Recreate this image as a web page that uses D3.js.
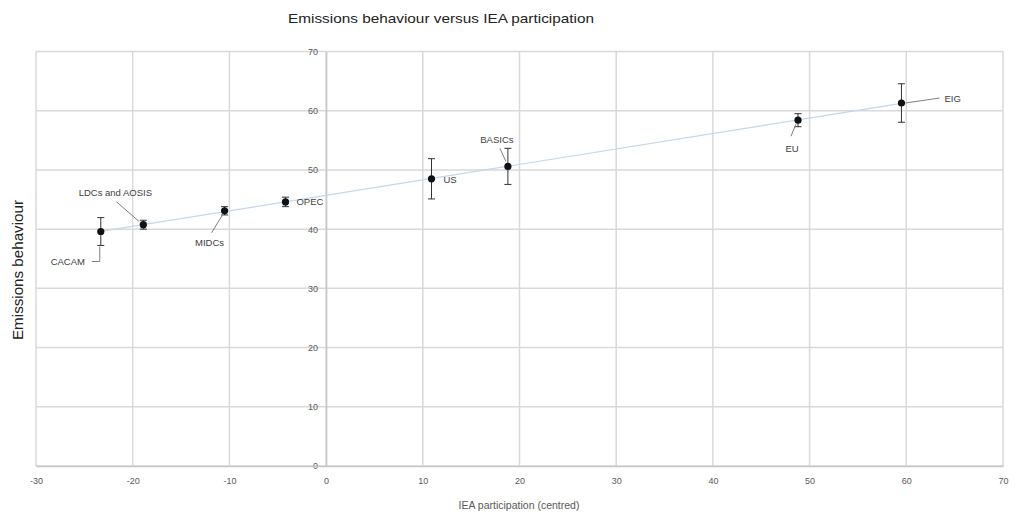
<!DOCTYPE html>
<html>
<head>
<meta charset="utf-8">
<script src="https://cdn.jsdelivr.net/npm/d3@7"></script>
<style>
  html, body { margin: 0; padding: 0; background: #fff; }
  svg { display: block; }
</style>
</head>
<body>
<svg id="chart" width="1017" height="515"></svg>
<script>
// Group names, IEA participation (centred), emissions behaviour and error half-widths
const groups = ["CACAM", "LDCs and AOSIS", "MIDCs", "OPEC", "US", "BASICs", "EU", "EIG"];
const ieaParticipation = [-23.3, -18.9, -10.5, -4.2, 10.9, 18.8, 48.8, 59.5];
const emissionsBehaviour = [39.6, 40.75, 43.1, 44.6, 48.5, 50.6, 58.4, 61.3];
const errorHalfWidth = [2.35, 0.75, 0.7, 0.8, 3.4, 3.05, 1.1, 3.25];

const xTicks = [-30, -20, -10, 0, 10, 20, 30, 40, 50, 60, 70];
const yTicks = [0, 10, 20, 30, 40, 50, 60, 70];

// Label placement (pixel offsets from each marker) and leader lines
const labelLayout = [
  { dx: -33, dy: 30, anchor: "middle", leader: [[-9, 30], [-1, 30], [-1, 15]] },
  { dx: -28, dy: -32, anchor: "middle", leader: [[-27, -23], [-4, -3]] },
  { dx: -15, dy: 32, anchor: "middle", leader: [[-13, 22], [-2, 4]] },
  { dx: 11, dy: 0, anchor: "start", leader: null },
  { dx: 12, dy: 1, anchor: "start", leader: null },
  { dx: -11, dy: -27, anchor: "middle", leader: [[-8, -18], [-2, -5]] },
  { dx: -6, dy: 28, anchor: "middle", leader: [[-7, 16], [-2, 4]] },
  { dx: 43, dy: -4, anchor: "start", leader: [[4, 0], [38, -5]] }
];

const svg = d3.select("#chart");
const plot = { left: 36, right: 1003, top: 51.5, bottom: 466 };

const x = d3.scaleLinear().domain([-30, 70]).range([plot.left, plot.right]);
const y = d3.scaleLinear().domain([0, 70]).range([plot.bottom, plot.top]);

const gridColor = "#d9d9d9";
const tickFont = "'Liberation Sans', Arial, sans-serif";
const plain = d => String(d);

// Gridlines
const grid = svg.append("g");
grid.selectAll("line.v").data(xTicks).join("line")
  .attr("x1", d => x(d)).attr("x2", d => x(d))
  .attr("y1", plot.top).attr("y2", plot.bottom)
  .attr("stroke", gridColor).attr("stroke-width", 1.5);
grid.selectAll("line.h").data(yTicks).join("line")
  .attr("x1", plot.left).attr("x2", plot.right)
  .attr("y1", d => y(d)).attr("y2", d => y(d))
  .attr("stroke", gridColor).attr("stroke-width", 1.5);

// Vertical axis at x = 0 with its tick labels
const yAxis = d3.axisLeft(y).tickValues(yTicks).tickFormat(plain).tickSize(0).tickPadding(8);
const yg = svg.append("g").attr("transform", `translate(${x(0)},0)`).call(yAxis);
yg.select(".domain").attr("stroke", "#c8c8c8").attr("stroke-width", 1.5);
yg.selectAll("text").attr("font-family", tickFont).attr("font-size", 9).attr("fill", "#595959");

// Horizontal axis at the bottom with its tick labels
const xAxis = d3.axisBottom(x).tickValues(xTicks).tickFormat(plain).tickSize(0).tickPadding(12);
const xg = svg.append("g").attr("transform", `translate(0,${plot.bottom})`).call(xAxis);
xg.select(".domain").attr("stroke", "#c8c8c8").attr("stroke-width", 1.5);
xg.selectAll("text").attr("font-family", tickFont).attr("font-size", 9).attr("fill", "#595959");

// Linear trend line fitted to the points
const pts = ieaParticipation.map((v, i) => [v, emissionsBehaviour[i]]);
const mx = d3.mean(pts, p => p[0]);
const my = d3.mean(pts, p => p[1]);
const slope = d3.sum(pts, p => (p[0] - mx) * (p[1] - my)) / d3.sum(pts, p => (p[0] - mx) ** 2);
const intercept = my - slope * mx;
const [xMin, xMax] = d3.extent(ieaParticipation);
svg.append("line")
  .attr("x1", x(xMin)).attr("y1", y(intercept + slope * xMin))
  .attr("x2", x(xMax)).attr("y2", y(intercept + slope * xMax))
  .attr("stroke", "#c3d7ee").attr("stroke-width", 1.2);

// Error bars
const eb = svg.append("g").attr("stroke", "#333").attr("stroke-width", 1);
groups.forEach((g, i) => {
  const cx = x(ieaParticipation[i]);
  const lo = y(emissionsBehaviour[i] - errorHalfWidth[i]);
  const hi = y(emissionsBehaviour[i] + errorHalfWidth[i]);
  eb.append("line").attr("x1", cx).attr("x2", cx).attr("y1", lo).attr("y2", hi);
  eb.append("line").attr("x1", cx - 3.5).attr("x2", cx + 3.5).attr("y1", lo).attr("y2", lo);
  eb.append("line").attr("x1", cx - 3.5).attr("x2", cx + 3.5).attr("y1", hi).attr("y2", hi);
});

// Markers
svg.append("g").selectAll("circle").data(groups).join("circle")
  .attr("cx", (d, i) => x(ieaParticipation[i]))
  .attr("cy", (d, i) => y(emissionsBehaviour[i]))
  .attr("r", 3.6)
  .attr("fill", "#111");

// Leader lines and data labels
const lab = svg.append("g");
groups.forEach((g, i) => {
  const cx = x(ieaParticipation[i]);
  const cy = y(emissionsBehaviour[i]);
  const L = labelLayout[i];
  if (L.leader) {
    lab.append("polyline")
      .attr("points", L.leader.map(p => [cx + p[0], cy + p[1]].join(",")).join(" "))
      .attr("fill", "none").attr("stroke", "#7f7f7f").attr("stroke-width", 1);
  }
  lab.append("text")
    .attr("x", cx + L.dx).attr("y", cy + L.dy)
    .attr("dy", "0.35em")
    .attr("text-anchor", L.anchor)
    .attr("font-family", tickFont).attr("font-size", 9.5)
    .attr("fill", "#404040")
    .text(g);
});

// Titles
const narrow = "'Liberation Sans Narrow', 'Arial Narrow', 'Liberation Sans', sans-serif";
svg.append("text")
  .attr("x", 441).attr("y", 18).attr("dy", "0.35em")
  .attr("text-anchor", "middle")
  .attr("font-family", narrow).attr("font-size", 13.5)
  .attr("fill", "#222")
  .attr("textLength", 306).attr("lengthAdjust", "spacingAndGlyphs")
  .text("Emissions behaviour versus IEA participation");

svg.append("text")
  .attr("transform", "translate(18,270) rotate(-90)")
  .attr("dy", "0.35em")
  .attr("text-anchor", "middle")
  .attr("font-family", narrow).attr("font-size", 15)
  .attr("fill", "#222")
  .attr("textLength", 140).attr("lengthAdjust", "spacingAndGlyphs")
  .text("Emissions behaviour");

svg.append("text")
  .attr("x", 519).attr("y", 505).attr("dy", "0.35em")
  .attr("text-anchor", "middle")
  .attr("font-family", tickFont).attr("font-size", 10.5)
  .attr("fill", "#595959")
  .text("IEA participation (centred)");
</script>
</body>
</html>
